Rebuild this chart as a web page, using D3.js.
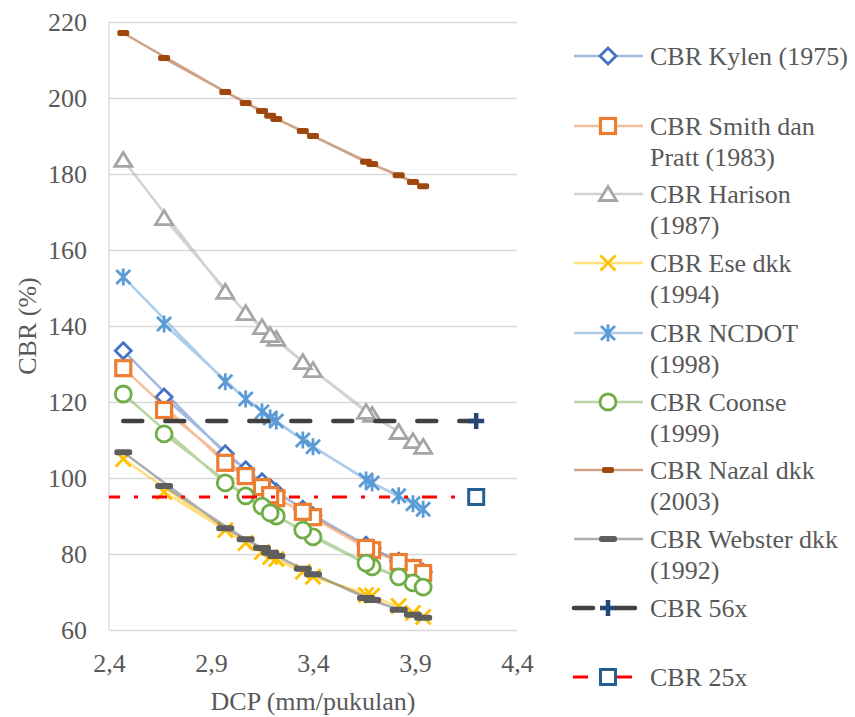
<!DOCTYPE html>
<html>
<head>
<meta charset="utf-8">
<script src="https://cdn.jsdelivr.net/npm/d3@7"></script>
<style>
  body { margin: 0; background: #fff; }
  svg text { font-family: "Liberation Serif", Tinos, "Times New Roman", "Noto Serif", "DejaVu Serif", serif !important; fill: #595959; }
</style>
</head>
<body>
<svg id="chart"></svg>
<script>
// DCP (mm/pukulan), sorted; sampleOrder is the order the points were entered
const dcp = [2.47, 2.67, 2.97, 3.07, 3.15, 3.19, 3.22, 3.35, 3.40, 3.66, 3.69, 3.82, 3.89, 3.94];
const sampleOrder = [0, 2, 4, 6, 8, 10, 12, 13, 11, 9, 7, 5, 3, 1];

const kylen   = [133.5, 121.3, 106.4, 102.2, 99.0, 97.5, 96.3, 91.8, 90.1, 82.3, 81.5, 78.1, 76.3, 75.2];
const smith   = [128.9, 117.9, 104.0, 100.5, 97.6, 95.5, 94.7, 91.1, 89.7, 81.6, 81.0, 77.9, 76.3, 75.0];
const harison = [183.7, 168.4, 149.0, 143.4, 139.7, 137.6, 136.6, 130.5, 128.4, 117.4, 116.6, 112.1, 109.7, 108.2];
const ese     = [105.0, 96.3, 86.3, 82.9, 80.5, 79.2, 78.7, 75.3, 74.0, 69.2, 69.0, 66.3, 64.5, 63.4];
const ncdot   = [152.9, 140.5, 125.3, 120.8, 117.4, 115.8, 115.0, 110.0, 108.2, 99.5, 98.7, 95.3, 93.2, 91.8];
const coonse  = [122.1, 111.6, 98.7, 95.3, 92.6, 90.8, 90.0, 86.3, 84.5, 77.6, 76.6, 74.0, 72.4, 71.3];
const nazal   = [217.1, 210.5, 201.6, 198.7, 196.6, 195.3, 194.5, 191.3, 190.0, 183.2, 182.6, 179.7, 177.9, 176.8];
const webster = [106.8, 97.9, 86.8, 83.9, 81.6, 80.3, 79.5, 76.1, 74.7, 68.4, 67.9, 65.3, 64.0, 63.2];

const cbr56x = [2.47, 4.2], cbr56y = 115;
const cbr25x = [2.4, 4.2],  cbr25y = 95;

const xTicks = [2.4, 2.9, 3.4, 3.9, 4.4];
const yTicks = [60, 80, 100, 120, 140, 160, 180, 200, 220];

const seriesNames = [
  ["CBR Kylen (1975)"],
  ["CBR Smith dan", "Pratt (1983)"],
  ["CBR Harison", "(1987)"],
  ["CBR Ese dkk", "(1994)"],
  ["CBR NCDOT", "(1998)"],
  ["CBR Coonse", "(1999)"],
  ["CBR Nazal dkk", "(2003)"],
  ["CBR Webster dkk", "(1992)"],
  ["CBR 56x"],
  ["CBR 25x"]
];
const seriesValues = [kylen, smith, harison, ese, ncdot, coonse, nazal, webster];

// look of each series
const looks = [
  {marker: "diamond",  color: "#4472C4"},
  {marker: "square",   color: "#ED7D31"},
  {marker: "triangle", color: "#A5A5A5"},
  {marker: "x",        color: "#FFC000"},
  {marker: "star",     color: "#5B9BD5"},
  {marker: "circle",   color: "#70AD47"},
  {marker: "smallbar", color: "#9E480E"},
  {marker: "bar",      color: "#5E5E5E"}
];

const FONT = '"Liberation Serif", Tinos, "Times New Roman", "Noto Serif", serif';
const width = 855, height = 717;
const svg = d3.select("#chart").attr("width", width).attr("height", height);
svg.append("rect").attr("width", width).attr("height", height).attr("fill", "#fff");

const x = d3.scaleLinear().domain([2.4, 4.4]).range([109, 517]);
const y = d3.scaleLinear().domain([60, 220]).range([630, 22]);

// gridlines + y labels
const yAxis = svg.append("g")
  .attr("transform", `translate(${x(2.4)},0)`)
  .call(d3.axisLeft(y).tickValues(yTicks).tickSize(-(x(4.4) - x(2.4))).tickPadding(22));
yAxis.attr("font-family", FONT);
yAxis.select(".domain").remove();
yAxis.selectAll(".tick line").attr("stroke", "#D9D9D9").attr("stroke-width", 1.3);
yAxis.selectAll(".tick text").attr("font-size", 26).attr("fill", "#595959");

// left axis line
svg.append("line")
  .attr("x1", x(2.4)).attr("x2", x(2.4)).attr("y1", y(220)).attr("y2", y(60))
  .attr("stroke", "#D9D9D9").attr("stroke-width", 1.3);

const xAxis = svg.append("g")
  .attr("transform", `translate(0,${y(60)})`)
  .call(d3.axisBottom(x).tickValues(xTicks).tickSize(0).tickPadding(24)
    .tickFormat(d => d3.format(".1f")(d).replace(".", ",")));
xAxis.attr("font-family", FONT);
xAxis.select(".domain").remove();
xAxis.selectAll(".tick text").attr("font-size", 26).attr("fill", "#595959");

svg.append("text")
  .attr("x", (x(2.4) + x(4.4)) / 2).attr("y", 710)
  .attr("text-anchor", "middle").attr("font-size", 26).attr("font-family", FONT)
  .text("DCP (mm/pukulan)");

svg.append("text")
  .attr("transform", `translate(36,${(y(60) + y(220)) / 2}) rotate(-90)`)
  .attr("text-anchor", "middle").attr("font-size", 26).attr("font-family", FONT)
  .text("CBR (%)");

function drawMarker(g, type, color) {
  if (type === "diamond") {
    g.append("path").attr("d", "M0,-8L8,0L0,8L-8,0Z")
      .attr("fill", "#fff").attr("stroke", color).attr("stroke-width", 2.8);
  } else if (type === "square") {
    g.append("rect").attr("x", -7.5).attr("y", -7.5).attr("width", 15).attr("height", 15)
      .attr("fill", "#fff").attr("stroke", color).attr("stroke-width", 3.2);
  } else if (type === "triangle") {
    g.append("path").attr("d", "M0,-7.5L8.5,6.5L-8.5,6.5Z")
      .attr("fill", "#fff").attr("stroke", color).attr("stroke-width", 2.8);
  } else if (type === "x") {
    g.append("path").attr("d", "M-7.5,-7.5L7.5,7.5M-7.5,7.5L7.5,-7.5")
      .attr("stroke", color).attr("stroke-width", 2.8);
  } else if (type === "star") {
    g.append("path").attr("d", "M-7,-7L7,7M-7,7L7,-7M0,-8.5L0,8.5")
      .attr("stroke", color).attr("stroke-width", 2.8);
  } else if (type === "circle") {
    g.append("circle").attr("r", 8)
      .attr("fill", "#fff").attr("stroke", color).attr("stroke-width", 2.8);
  } else if (type === "smallbar") {
    g.append("rect").attr("x", -6).attr("y", -3).attr("width", 12).attr("height", 6).attr("rx", 2)
      .attr("fill", color);
  } else if (type === "bar") {
    g.append("rect").attr("x", -9).attr("y", -3).attr("width", 18).attr("height", 6).attr("rx", 2.5)
      .attr("fill", color);
  } else if (type === "plus") {
    g.append("path").attr("d", "M-8,0L8,0M0,-8L0,8")
      .attr("stroke", color).attr("stroke-width", 4.5);
  } else if (type === "box") {
    g.append("rect").attr("x", -7.5).attr("y", -7.5).attr("width", 15).attr("height", 15)
      .attr("fill", "#fff").attr("stroke", color).attr("stroke-width", 3);
  }
}

const line = d3.line().x(d => x(d[0])).y(d => y(d[1]));
const plot = svg.append("g");

seriesValues.forEach(function(vals, i) {
  let pts = sampleOrder.map(k => [dcp[k], vals[k]]);
  let look = looks[i];
  let sg = plot.append("g").attr("class", "series");
  sg.append("path")
    .attr("d", line(pts))
    .attr("fill", "none")
    .attr("stroke", look.color)
    .attr("stroke-opacity", 0.5)
    .attr("stroke-width", 2.5)
    .attr("stroke-linejoin", "round");
  sg.selectAll(null)
    .data(pts)
    .enter()
    .append("g")
    .attr("transform", d => `translate(${x(d[0])},${y(d[1])})`)
    .each(function() { drawMarker(d3.select(this), look.marker, look.color); });
});

// CBR 56x
plot.append("path")
  .attr("d", line(cbr56x.map(v => [v, cbr56y])))
  .attr("stroke", "#404040").attr("stroke-width", 4.5)
  .attr("stroke-linecap", "round").attr("stroke-dasharray", "19,23");
drawMarker(plot.append("g").attr("transform", `translate(${x(cbr56x[1])},${y(cbr56y)})`), "plus", "#264478");

// CBR 25x
plot.append("path")
  .attr("d", line(cbr25x.map(v => [v, cbr25y])))
  .attr("stroke", "#FF0000").attr("stroke-width", 3.2)
  .attr("stroke-dasharray", "11,14,4,14,15,14,4,14");
drawMarker(plot.append("g").attr("transform", `translate(${x(cbr25x[1])},${y(cbr25y)})`), "box", "#255E91");

// legend
const legendY = [56, 126, 194, 263, 333, 402, 470, 539, 608, 677];
const legend = svg.append("g").attr("font-family", FONT);
seriesNames.forEach(function(lines, i) {
  let ly = legendY[i];
  let lg = legend.append("g");
  if (i < 8) {
    lg.append("line").attr("x1", 574).attr("x2", 643).attr("y1", ly).attr("y2", ly)
      .attr("stroke", looks[i].color).attr("stroke-opacity", 0.5).attr("stroke-width", 2.5);
    drawMarker(lg.append("g").attr("transform", `translate(608,${ly})`), looks[i].marker, looks[i].color);
  } else if (i === 8) {
    lg.append("line").attr("x1", 574).attr("x2", 636).attr("y1", ly).attr("y2", ly)
      .attr("stroke", "#404040").attr("stroke-width", 4.5)
      .attr("stroke-linecap", "round").attr("stroke-dasharray", "19,23");
    drawMarker(lg.append("g").attr("transform", `translate(608,${ly})`), "plus", "#264478");
  } else {
    lg.append("line").attr("x1", 573).attr("x2", 633).attr("y1", ly).attr("y2", ly)
      .attr("stroke", "#FF0000").attr("stroke-width", 3.2)
      .attr("stroke-dasharray", "15,13,3,13");
    drawMarker(lg.append("g").attr("transform", `translate(608,${ly})`), "box", "#255E91");
  }
  let t = lg.append("text").attr("x", 650).attr("y", ly + 9).attr("font-size", 26);
  lines.forEach(function(s, j) {
    t.append("tspan").attr("x", 650).attr("dy", j === 0 ? 0 : 31).text(s);
  });
});
</script>
</body>
</html>
